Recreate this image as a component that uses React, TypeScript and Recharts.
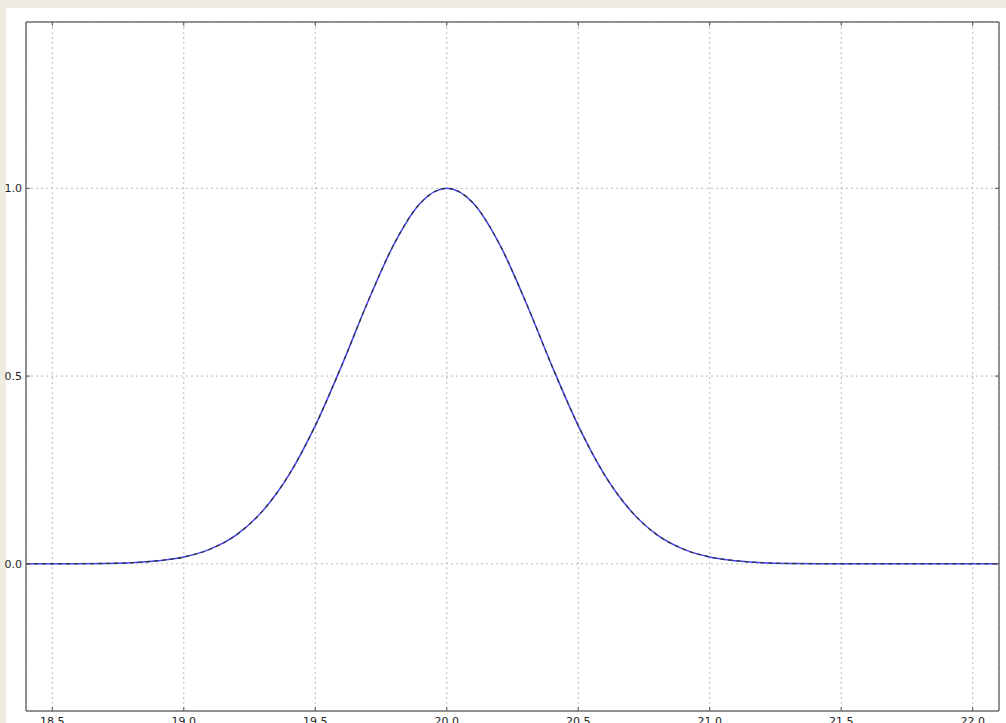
import React from 'react';
import { LineChart, Line, XAxis, YAxis, CartesianGrid } from 'recharts';

const xValues = [
  18.4, 18.5, 18.6, 18.7, 18.8, 18.9, 19.0, 19.1, 19.2, 19.3, 19.4, 19.5, 19.6, 19.7, 19.8, 19.9,
  20.0, 20.1, 20.2, 20.3, 20.4, 20.5, 20.6, 20.7, 20.8, 20.9, 21.0, 21.1, 21.2, 21.3, 21.4, 21.5,
  21.6, 21.7, 21.8, 21.9, 22.0, 22.1,
];

// measured curve (solid blue)
const measured = [
  0.0, 0.0, 0.0004, 0.001, 0.003, 0.008, 0.018, 0.039, 0.077, 0.141, 0.237, 0.368, 0.527, 0.698, 0.852, 0.961,
  1.0, 0.961, 0.852, 0.698, 0.527, 0.368, 0.237, 0.141, 0.077, 0.039, 0.018, 0.008, 0.003, 0.001, 0.0004, 0.0,
  0.0, 0.0, 0.0, 0.0, 0.0, 0.0,
];

// fitted curve (dashed black), sits right on top of the measured one
const fitted = [
  0.0, 0.0, 0.0004, 0.001, 0.003, 0.008, 0.018, 0.039, 0.077, 0.141, 0.237, 0.368, 0.527, 0.698, 0.852, 0.961,
  1.0, 0.961, 0.852, 0.698, 0.527, 0.368, 0.237, 0.141, 0.077, 0.039, 0.018, 0.008, 0.003, 0.001, 0.0004, 0.0,
  0.0, 0.0, 0.0, 0.0, 0.0, 0.0,
];

const xTicks = [18.5, 19.0, 19.5, 20.0, 20.5, 21.0, 21.5, 22.0];
const yTicks = [0.0, 0.5, 1.0];

const data = xValues.map((x, i) => ({ x, measured: measured[i], fitted: fitted[i] }));

const FRAME = '#707070';
const TICK = '#555';
const TICK_LEN = 4;
const font = { fontSize: 11, fill: '#222', fontFamily: 'DejaVu Sans' };

// matplotlib-classic style: tick marks point into the plot
const BottomTick = ({ x, y, payload }: any) => (
  <g>
    <line x1={x} x2={x} y1={y - 6} y2={y - 6 - TICK_LEN} stroke={TICK} />
    <text x={x} y={y} dy="0.71em" textAnchor="middle" {...font}>{payload.value.toFixed(1)}</text>
  </g>
);

const LeftTick = ({ x, y, payload }: any) => (
  <g>
    <line x1={x + 4} x2={x + 4 + TICK_LEN} y1={y} y2={y} stroke={TICK} />
    <text x={x} y={y} dy="0.355em" textAnchor="end" {...font}>{payload.value.toFixed(1)}</text>
  </g>
);

const TopTick = ({ x, y }: any) => <line x1={x} x2={x} y1={y} y2={y + TICK_LEN} stroke={TICK} />;
const RightTick = ({ x, y }: any) => <line x1={x} x2={x - TICK_LEN} y1={y} y2={y} stroke={TICK} />;

export default function App() {
  return (
    <div style={{ position: 'absolute', left: 0, top: 0, width: 1006, height: 723, background: '#eeebe0', overflow: 'hidden' }}>
      <div style={{ position: 'absolute', left: 6, top: 8, width: 1000, height: 715, background: '#fff' }} />
      <div style={{ position: 'absolute', left: 0, top: 0 }}>
        <LineChart width={1006} height={723} data={data} margin={{ top: 0, right: 0, bottom: 0, left: 0 }}>
          <CartesianGrid xAxisId="bottom" yAxisId="left" stroke="#b8b8b8" strokeDasharray="2 3" />
          <XAxis
            xAxisId="bottom" dataKey="x" type="number" domain={[18.4, 22.1]} ticks={xTicks}
            allowDataOverflow height={12} tickSize={0} tickMargin={6} tick={<BottomTick />}
            axisLine={{ stroke: FRAME, strokeWidth: 1.5 }} tickLine={false}
          />
          <XAxis
            xAxisId="top" orientation="top" dataKey="x" type="number" domain={[18.4, 22.1]} ticks={xTicks}
            allowDataOverflow height={22} tickSize={0} tickMargin={0} tick={<TopTick />} tickLine={false}
            axisLine={{ stroke: FRAME, strokeWidth: 1.5 }}
          />
          <YAxis
            yAxisId="left" type="number" domain={[-0.392, 1.443]} ticks={yTicks} allowDataOverflow
            width={26} tickSize={0} tickMargin={4} tick={<LeftTick />}
            axisLine={{ stroke: FRAME, strokeWidth: 1.5 }} tickLine={false}
          />
          <YAxis
            yAxisId="right" orientation="right" type="number" domain={[-0.392, 1.443]} ticks={yTicks}
            allowDataOverflow width={7} tickSize={0} tickMargin={0} tick={<RightTick />} tickLine={false}
            axisLine={{ stroke: FRAME, strokeWidth: 1.5 }}
          />
          <Line
            xAxisId="bottom" yAxisId="left" type="monotone" dataKey="measured"
            stroke="#4444ff" strokeWidth={1.5} dot={false} isAnimationActive={false}
          />
          <Line
            xAxisId="bottom" yAxisId="left" type="monotone" dataKey="fitted"
            stroke="#333" strokeWidth={1.3} strokeDasharray="4 4" dot={false} isAnimationActive={false}
          />
        </LineChart>
      </div>
    </div>
  );
}
